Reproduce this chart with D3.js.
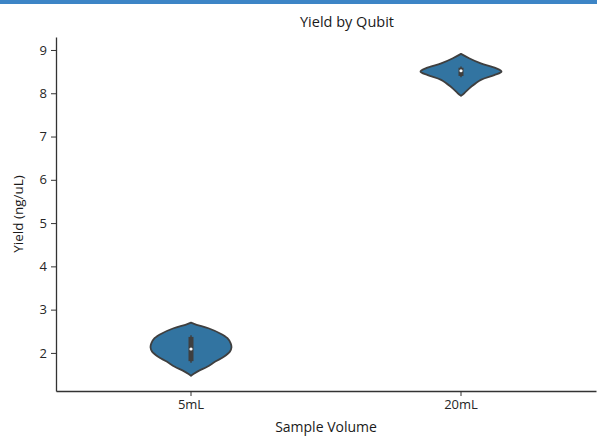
<!DOCTYPE html>
<html>
<head>
<meta charset="utf-8">
<script src="https://cdn.jsdelivr.net/npm/d3@7"></script>
<style>
  body { margin: 0; background: #fff; }
  svg { display: block; font-family: "Open Sans", sans-serif; }
</style>
</head>
<body>
<svg id="chart"></svg>
<script>
const width = 597
const height = 437

const categories = ["5mL", "20mL"];
const yTicks = [2, 3, 4, 5, 6, 7, 8, 9];

// density profile of each violin (value -> relative width)
const values5 = [2.70, 2.65, 2.57, 2.45, 2.34, 2.22, 2.13, 2.03, 1.91, 1.80, 1.68, 1.59, 1.51, 1.47];
const density5 = [0, 0.14, 0.43, 0.72, 0.90, 0.98, 1.0, 0.96, 0.81, 0.60, 0.40, 0.20, 0.06, 0];
const values20 = [8.91, 8.81, 8.69, 8.58, 8.50, 8.42, 8.31, 8.15, 8.00, 7.94];
const density20 = [0, 0.20, 0.49, 0.86, 1.0, 0.82, 0.49, 0.25, 0.08, 0];

// inner box stats: [whiskerLow, q1, median, q3, whiskerHigh]
const box5 = [1.77, 1.81, 2.09, 2.37, 2.41];
const box20 = [8.37, 8.40, 8.52, 8.59, 8.62];

const violins = [
  {cat: categories[0], values: values5, density: density5, box: box5},
  {cat: categories[1], values: values20, density: density20, box: box20}
];

const margin = {top: 37, right: 1, bottom: 46, left: 56};

const svg = d3.select("#chart")
    .attr("width", width)
    .attr("height", height);

// blue strip along the top of the page
svg.append("rect")
    .attr("x", 0).attr("y", 0)
    .attr("width", width).attr("height", 4)
    .attr("fill", "#3d85c6");

const x = d3.scaleBand()
    .domain(categories)
    .range([margin.left, width - margin.right]);

const y = d3.scaleLinear()
    .domain([1.12, 9.3])
    .range([height - margin.bottom, margin.top]);

const halfWidth = d3.scaleLinear()
    .domain([0, 1])
    .range([0, x.bandwidth() * 0.15]);

const area = d3.area()
    .curve(d3.curveCatmullRom)
    .y(d => y(d.v));

const g = svg.append("g");

violins.forEach(vi => {
  const cx = x(vi.cat) + x.bandwidth() / 2;
  const pts = vi.values.map((v, i) => ({v: v, d: vi.density[i]}));

  g.append("path")
      .datum(pts)
      .attr("d", area.x0(d => cx - halfWidth(d.d)).x1(d => cx + halfWidth(d.d)))
      .attr("fill", "#3274a1")
      .attr("stroke", "#3f3f3f")
      .attr("stroke-width", 1.8)
      .attr("stroke-linejoin", "round");

  // whiskers
  g.append("line")
      .attr("x1", cx).attr("x2", cx)
      .attr("y1", y(vi.box[0])).attr("y2", y(vi.box[4]))
      .attr("stroke", "#3f3f3f")
      .attr("stroke-width", 1.5);

  // IQR box
  g.append("line")
      .attr("x1", cx).attr("x2", cx)
      .attr("y1", y(vi.box[1])).attr("y2", y(vi.box[3]))
      .attr("stroke", "#3f3f3f")
      .attr("stroke-width", 5);

  // median
  g.append("circle")
      .attr("cx", cx)
      .attr("cy", y(vi.box[2]))
      .attr("r", 1.6)
      .attr("fill", "#fff");
});

// axes
const xAxis = svg.append("g")
    .attr("transform", `translate(0,${height - margin.bottom})`)
    .call(d3.axisBottom(x).tickSize(5).tickSizeOuter(0).tickPadding(4));

const yAxis = svg.append("g")
    .attr("transform", `translate(${margin.left},0)`)
    .call(d3.axisLeft(y).tickValues(yTicks).tickSize(5).tickSizeOuter(0).tickPadding(4));

[xAxis, yAxis].forEach(ax => {
  ax.select(".domain").attr("stroke", "#333").attr("stroke-width", 1.3);
  ax.selectAll(".tick line").attr("stroke", "#333");
  ax.selectAll(".tick text")
      .attr("fill", "#262626")
      .style("font-family", "'Open Sans', sans-serif")
      .style("font-size", "13px");
});

svg.append("text")
    .attr("x", 347)
    .attr("y", 27)
    .attr("text-anchor", "middle")
    .attr("fill", "#1a1a1a")
    .style("font-size", "14.5px")
    .text("Yield by Qubit");

svg.append("text")
    .attr("x", (margin.left + width - margin.right) / 2)
    .attr("y", 432)
    .attr("text-anchor", "middle")
    .attr("fill", "#1a1a1a")
    .style("font-size", "14px")
    .text("Sample Volume");

svg.append("text")
    .attr("transform", `translate(23,${(margin.top + height - margin.bottom) / 2}) rotate(-90)`)
    .attr("text-anchor", "middle")
    .attr("fill", "#1a1a1a")
    .style("font-size", "13.5px")
    .text("Yield (ng/uL)");
</script>
</body>
</html>
